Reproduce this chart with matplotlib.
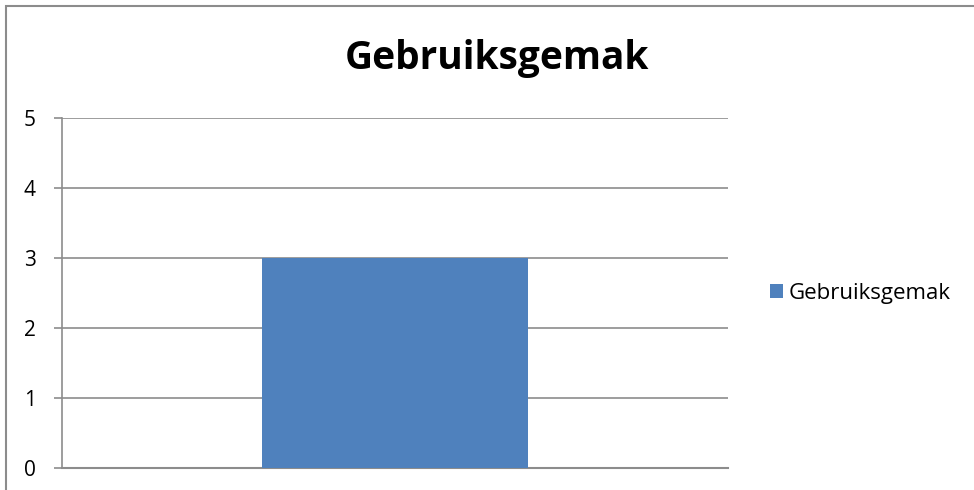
import matplotlib
matplotlib.use('Agg')
import matplotlib.pyplot as plt
from matplotlib.patches import Rectangle

categories = ['']
values = [3]
series_name = 'Gebruiksgemak'
title = 'Gebruiksgemak'
yticks = [0, 1, 2, 3, 4, 5]

plt.rcParams['font.family'] = ['Open Sans', 'DejaVu Sans']

W, H = 974, 490
fig = plt.figure(figsize=(W / 100, H / 100), dpi=100)

# chart frame (runs off the right and bottom edge)
fig.patches.append(Rectangle((6 / W, -0.1), 1.2, 1 - 6 / H + 0.1,
                             transform=fig.transFigure, fill=False,
                             edgecolor='#8c8c8c', lw=1.5))

ax = fig.add_axes([62 / W, 1 - 468 / H, (728 - 62) / W, (468 - 118) / H])
ax.bar(range(len(categories)), values, width=0.4, color='#4f81bd',
       label=series_name, zorder=3)
ax.set_xlim(-0.5, len(categories) - 0.5)
ax.set_ylim(0, 5)
ax.set_yticks(yticks)
ax.set_xticks([])
ax.tick_params(axis='y', length=6, color='#8c8c8c', width=1.2,
               labelsize=15, pad=13)
ax.grid(axis='y', color='#8c8c8c', lw=1.2, zorder=0)
for s in ['top', 'right']:
    ax.spines[s].set_visible(False)
ax.spines['left'].set_color('#8c8c8c')
ax.spines['left'].set_linewidth(1.2)
ax.spines['bottom'].set_color('#8c8c8c')
ax.spines['bottom'].set_linewidth(1.5)

fig.text(497 / W, 1 - 58 / H, title, ha='center', va='center',
         fontsize=28, fontweight='bold')

fig.legend(loc='center left', bbox_to_anchor=(770 / W, 1 - 293 / H),
           frameon=False, fontsize=16, handlelength=0.6, handleheight=0.6,
           handletextpad=0.25, borderpad=0, borderaxespad=0)

fig.savefig('out.png', dpi=100)
